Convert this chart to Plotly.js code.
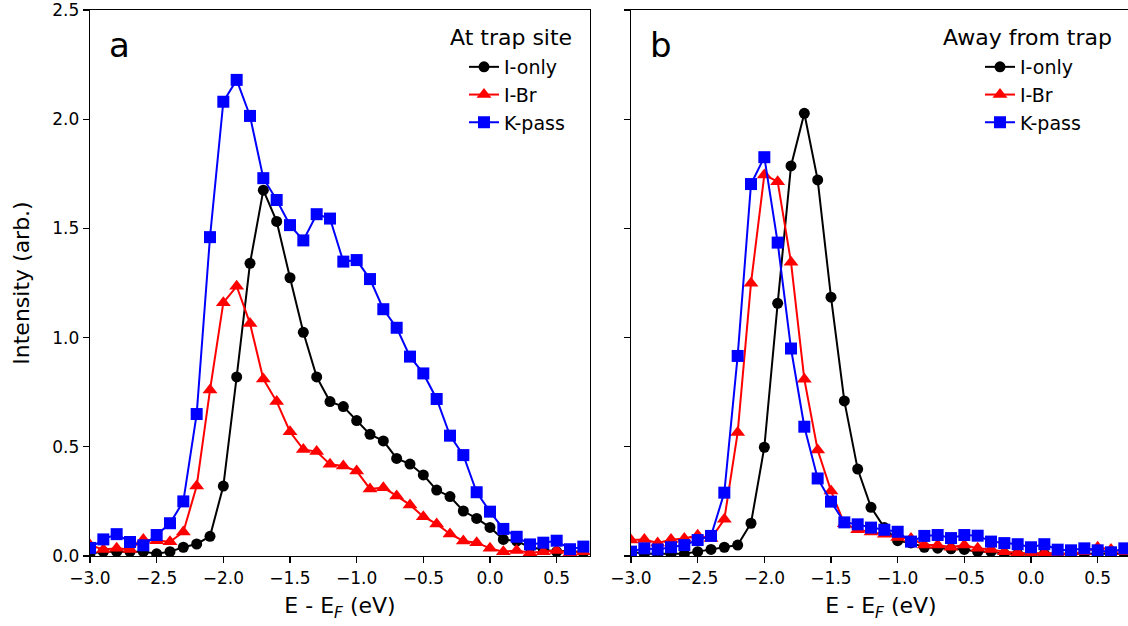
<!DOCTYPE html>
<html>
<head>
<meta charset="utf-8">
<script src="https://cdn.plot.ly/plotly-3.0.1.min.js"></script>
<style>
html,body{margin:0;padding:0;overflow:hidden;background:#fff;}
#chart{width:1136px;height:626px;}
</style>
</head>
<body>
<div id="chart"></div>
<script>
// Energy axis (eV), E - E_F
var energy = [-3.0,-2.9,-2.8,-2.7,-2.6,-2.5,-2.4,-2.3,-2.2,-2.1,-2.0,-1.9,-1.8,-1.7,-1.6,-1.5,-1.4,-1.3,-1.2,-1.1,-1.0,-0.9,-0.8,-0.7,-0.6,-0.5,-0.4,-0.3,-0.2,-0.1,0.0,0.1,0.2,0.3,0.4,0.5,0.6,0.7];

// Panel a: at trap site
var trapIonly = [0.01,0.02,0.02,0.02,0.02,0.01,0.02,0.04,0.055,0.09,0.32,0.82,1.34,1.675,1.532,1.274,1.024,0.82,0.707,0.684,0.62,0.557,0.527,0.447,0.421,0.371,0.302,0.272,0.206,0.172,0.131,0.076,0.068,0.04,0.03,0.02,0.025,0.015];
var trapIBr = [0.05,0.03,0.035,0.03,0.075,0.07,0.065,0.11,0.32,0.76,1.16,1.235,1.065,0.81,0.707,0.569,0.488,0.478,0.42,0.412,0.389,0.307,0.313,0.275,0.234,0.18,0.147,0.101,0.069,0.061,0.035,0.02,0.025,0.015,0.02,0.025,0.015,0.02];
var trapKpass = [0.037,0.076,0.10,0.064,0.049,0.096,0.15,0.25,0.65,1.46,2.08,2.18,2.015,1.73,1.63,1.515,1.445,1.565,1.545,1.348,1.355,1.268,1.13,1.045,0.913,0.836,0.719,0.551,0.462,0.292,0.203,0.124,0.088,0.053,0.061,0.07,0.031,0.043];

// Panel b: away from trap
var awayIonly = [0.02,0.01,0.01,0.01,0.01,0.02,0.03,0.04,0.05,0.15,0.498,1.157,1.786,2.027,1.722,1.185,0.71,0.398,0.223,0.13,0.07,0.06,0.04,0.036,0.033,0.03,0.02,0.02,0.01,0.01,0.01,0.01,0.01,0.01,0.01,0.01,0.01,0.01];
var awayIBr = [0.073,0.075,0.06,0.075,0.08,0.095,0.08,0.168,0.565,1.249,1.745,1.714,1.345,0.809,0.485,0.298,0.148,0.12,0.11,0.10,0.085,0.08,0.05,0.05,0.04,0.05,0.035,0.03,0.02,0.015,0.01,0.015,0.01,0.01,0.02,0.04,0.03,0.02];
var awayKpass = [0.02,0.035,0.03,0.04,0.05,0.073,0.092,0.29,0.916,1.703,1.826,1.435,0.95,0.592,0.355,0.249,0.154,0.145,0.13,0.12,0.111,0.066,0.092,0.096,0.082,0.096,0.093,0.066,0.059,0.054,0.04,0.054,0.029,0.026,0.035,0.026,0.017,0.035];

var seriesNames = ['I-only','I-Br','K-pass'];
var seriesColors = ['#000000','#ff0000','#0000ff'];
var seriesSymbols = ['circle','triangle-up','square'];
var seriesSizes = [11,13,12];
var xTickVals = [-3.0,-2.5,-2.0,-1.5,-1.0,-0.5,0.0,0.5];
var yTickVals = [0.0,0.5,1.0,1.5,2.0,2.5];
var yTickText = ['0.0','0.5','1.0','1.5','2.0','2.5'];
var panelTitles = ['At trap site','Away from trap'];
var panelLetters = ['a','b'];

var FONT = 'DejaVu Sans, sans-serif';
var W = 1136, H = 626;
var L = 90, R = 5, T = 10, B = 70;
var PW = W - L - R, PH = H - T - B;
function px(x){ return (x - L) / PW; }
function py(y){ return (H - B - y) / PH; }

var panels = [[trapIonly, trapIBr, trapKpass],[awayIonly, awayIBr, awayKpass]];
var traces = [];
for (var p = 0; p < 2; p++) {
  for (var s = 0; s < 3; s++) {
    traces.push({
      x: energy, y: panels[p][s], type: 'scatter', mode: 'lines+markers',
      name: seriesNames[s],
      xaxis: p === 0 ? 'x' : 'x2', yaxis: p === 0 ? 'y' : 'y2',
      legend: p === 0 ? 'legend' : 'legend2',
      line: {color: seriesColors[s], width: 2},
      marker: {color: seriesColors[s], symbol: seriesSymbols[s], size: seriesSizes[s]}
    });
  }
}

function xax(domain, anchor) {
  return {
    domain: domain, anchor: anchor, range: [-3.0, 0.75],
    tickvals: xTickVals, tickformat: '.1f', ticks: 'outside', ticklen: 6, tickwidth: 1.3,
    tickcolor: '#000', showline: true, linecolor: '#000', linewidth: 1.3, mirror: true,
    showgrid: false, zeroline: false, ticklabeloverflow: 'allow',
    tickfont: {family: FONT, size: 17, color: '#000'},
    title: {text: 'E - E<sub><i>F</i></sub> (eV)', font: {family: FONT, size: 22, color: '#000'}, standoff: 11}
  };
}
function yax(anchor, labels) {
  var a = {
    anchor: anchor, range: [0, 2.5], domain: [0, 1],
    tickvals: yTickVals, ticktext: yTickText, ticks: 'outside', ticklen: 6, tickwidth: 1.3,
    tickcolor: '#000', showline: true, linecolor: '#000', linewidth: 1.3, mirror: true,
    showgrid: false, zeroline: false, showticklabels: labels, ticklabeloverflow: 'allow',
    tickfont: {family: FONT, size: 17, color: '#000'}
  };
  if (labels) {
    a.title = {text: 'Intensity (arb.)', font: {family: FONT, size: 22, color: '#000'}, standoff: 16};
  }
  return a;
}

var d1 = [0, 500 / PW];
var d2 = [541 / PW, 1];

var legendBase = {
  bgcolor: 'rgba(0,0,0,0)', borderwidth: 0,
  font: {family: FONT, size: 19, color: '#000'},
  xanchor: 'left', yanchor: 'top', tracegroupgap: 0
};
var leg1 = Object.assign({}, legendBase, {x: px(464), y: py(48)});
var leg2 = Object.assign({}, legendBase, {x: px(980), y: py(48)});

var layout = {
  width: W, height: H,
  margin: {l: L, r: R, t: T, b: B},
  paper_bgcolor: '#fff', plot_bgcolor: '#fff',
  font: {family: FONT, color: '#000'},
  showlegend: true,
  xaxis: xax(d1, 'y'),
  yaxis: yax('x', true),
  xaxis2: xax(d2, 'y2'),
  yaxis2: yax('x2', false),
  legend: leg1,
  legend2: leg2,
  annotations: [
    {xref: 'paper', yref: 'paper', x: px(574), y: py(37), xanchor: 'right', yanchor: 'middle',
     text: panelTitles[0], showarrow: false, font: {family: FONT, size: 22, color: '#000'}},
    {xref: 'paper', yref: 'paper', x: px(1114), y: py(37), xanchor: 'right', yanchor: 'middle',
     text: panelTitles[1], showarrow: false, font: {family: FONT, size: 22, color: '#000'}},
    {xref: 'paper', yref: 'paper', x: px(107), y: py(45), xanchor: 'left', yanchor: 'middle',
     text: panelLetters[0], showarrow: false, font: {family: FONT, size: 34, color: '#000'}},
    {xref: 'paper', yref: 'paper', x: px(648), y: py(45), xanchor: 'left', yanchor: 'middle',
     text: panelLetters[1], showarrow: false, font: {family: FONT, size: 34, color: '#000'}}
  ]
};

Plotly.newPlot('chart', traces, layout, {displayModeBar: false, staticPlot: true});
</script>
</body>
</html>
